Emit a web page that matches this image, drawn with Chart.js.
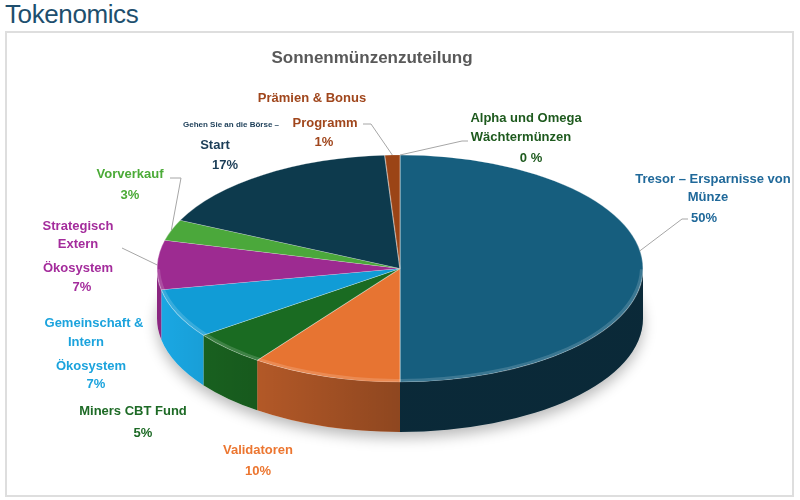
<!DOCTYPE html>
<html lang="de">
<head>
<meta charset="utf-8">
<title>Tokenomics</title>
<script src="https://cdn.jsdelivr.net/npm/chart.js@4.4.1/dist/chart.umd.min.js"></script>
<style>
    html, body { margin: 0; padding: 0; background: #fff; }
    body { width: 800px; height: 500px; position: relative; overflow: hidden; font-family: "Liberation Sans", Arial, sans-serif; }
    h1 { position: absolute; left: 5px; top: -1px; margin: 0; font-weight: normal; font-size: 26px; letter-spacing: -0.4px; color: #1e4f6e; }
    .frame { position: absolute; left: 5px; top: 31px; width: 785px; height: 462px; border: 2px solid #dedede; }
    canvas { position: absolute; left: 0; top: 0; }
</style>
</head>
<body>
<h1>Tokenomics</h1>
<div class="frame"></div>
<canvas id="tokenomics" width="800" height="500"></canvas>
<script>
(function() {
    "use strict";

    // Data
    var categories = [
        'Tresor – Ersparnisse von Münze',
        'Validatoren',
        'Miners CBT Fund',
        'Gemeinschaft & Intern Ökosystem',
        'Strategisch Extern Ökosystem',
        'Vorverkauf',
        'Gehen Sie an die Börse – Start',
        'Prämien & Bonus Programm',
        'Alpha und Omega Wächtermünzen'
    ];
    var shares = [50, 10, 5, 7, 7, 3, 17, 1, 0];

    var topColors  = ['#165e7e', '#e77432', '#1a6b22', '#119cd6', '#9d2b91', '#4ba83b', '#0d3a4d', '#9b4416', '#1e5c1e'];
    var sideColors = ['#0f3b50', '#cc652d', '#1a6621', '#1aa8e4', '#8a2680', '#3f9231', '#0a2c3b', '#7d3712', '#174a17'];

    var chartTitle = 'Sonnenmünzenzuteilung';
    var depth = 50;

    // Label placement (text lines: [text, x, y, fontSize])
    var labelLayout = [
        { lines: [['Tresor – Ersparnisse von', 713, 179], ['Münze', 708, 197]], pct: [704, 218], color: '#20699a', leader: [[688, 219], [682, 219]], at: 0.45 },
        { lines: [['Validatoren', 258, 450]], pct: [258, 471], color: '#ec7630' },
        { lines: [['Miners CBT Fund', 133, 411]], pct: [143, 433], color: '#1d6a25' },
        { lines: [['Gemeinschaft &', 94, 323], ['Intern', 86, 342], ['Ökosystem', 91, 366]], pct: [96, 384], color: '#1ba3dd' },
        { lines: [['Strategisch', 78, 226], ['Extern', 78, 244], ['Ökosystem', 78, 268]], pct: [82, 287], color: '#a42c9c', leader: [[122, 248]] },
        { lines: [['Vorverkauf', 130, 174]], pct: [130, 195], color: '#4bab37', leader: [[170, 178], [181, 178]] },
        { lines: [['Gehen Sie an die Börse –', 231, 125, 8], ['Start', 215, 145]], pct: [225, 165], color: '#1b3d57' },
        { lines: [['Prämien & Bonus', 312, 98], ['Programm', 325, 123]], pct: [324, 142], color: '#a0461c', leader: [[363, 124], [371, 124]] },
        { lines: [['Alpha und Omega', 526, 118], ['Wächtermünzen', 521, 137]], pct: [531, 158], sep: ' ', color: '#1e5a1e', leader: [[468, 141], [462, 141]] }
    ];

    function ellipseOf(chart) {
        var a = chart.chartArea;
        return { cx: (a.left + a.right) / 2, cy: (a.top + a.bottom) / 2, rx: a.width / 2, ry: a.height / 2 };
    }

    // Tilted pie: side walls + squashed top face
    var pie3d = {
        id: 'pie3d',
        beforeDatasetsDraw: function(chart) {
            var ctx = chart.ctx;
            var e = ellipseOf(chart);
            var arcs = chart.getDatasetMeta(0).data;

            // soft shadow under the pie
            ctx.save();
            ctx.shadowColor = 'rgba(0,0,0,0.28)';
            ctx.shadowBlur = 14;
            ctx.shadowOffsetY = 6;
            ctx.fillStyle = '#fff';
            ctx.beginPath();
            ctx.ellipse(e.cx, e.cy + depth, e.rx, e.ry, 0, 0, Math.PI * 2);
            ctx.fill();
            ctx.restore();

            // front side walls
            ctx.save();
            arcs.forEach(function(arc, i) {
                var p = arc.getProps(['startAngle', 'endAngle']);
                var s = Math.max(p.startAngle, 0), t = Math.min(p.endAngle, Math.PI);
                if (t <= s) return;
                ctx.beginPath();
                ctx.ellipse(e.cx, e.cy, e.rx, e.ry, 0, s, t);
                ctx.ellipse(e.cx, e.cy + depth, e.rx, e.ry, 0, t, s, true);
                ctx.closePath();
                ctx.fillStyle = sideColors[i];
                ctx.fill();
            });
            // shading across the wall
            var g = ctx.createLinearGradient(e.cx - e.rx, 0, e.cx + e.rx, 0);
            g.addColorStop(0, 'rgba(0,0,0,0)');
            g.addColorStop(0.5, 'rgba(0,0,0,0.3)');
            g.addColorStop(1, 'rgba(0,0,0,0.3)');
            ctx.beginPath();
            ctx.ellipse(e.cx, e.cy, e.rx, e.ry, 0, 0, Math.PI);
            ctx.ellipse(e.cx, e.cy + depth, e.rx, e.ry, 0, Math.PI, 0, true);
            ctx.closePath();
            ctx.fillStyle = g;
            ctx.fill();
            ctx.restore();
        },
        beforeDatasetDraw: function(chart) {
            var ctx = chart.ctx;
            var e = ellipseOf(chart);
            var r = chart.getDatasetMeta(0).data[0].outerRadius;
            ctx.save();
            ctx.translate(e.cx, e.cy);
            ctx.scale(e.rx / r, e.ry / r);
            ctx.translate(-e.cx, -e.cy);
        },
        afterDatasetDraw: function(chart) {
            chart.ctx.restore();
        },
        afterDatasetsDraw: function(chart) {
            // light bevel along the front rim of the top face
            var ctx = chart.ctx;
            var e = ellipseOf(chart);
            ctx.save();
            ctx.strokeStyle = 'rgba(255,255,255,0.16)';
            ctx.lineWidth = 3;
            ctx.beginPath();
            ctx.ellipse(e.cx, e.cy - 1.5, e.rx - 1.5, e.ry, 0, 0.02, Math.PI - 0.02);
            ctx.stroke();
            ctx.restore();
        }
    };

    // Title, labels and leader lines
    var pieLabels = {
        id: 'pieLabels',
        afterDraw: function(chart) {
            var ctx = chart.ctx;
            var e = ellipseOf(chart);
            var arcs = chart.getDatasetMeta(0).data;
            ctx.save();
            ctx.textAlign = 'center';
            ctx.textBaseline = 'middle';

            ctx.font = 'bold 17px "Liberation Sans", Arial, sans-serif';
            ctx.fillStyle = '#595959';
            ctx.fillText(chartTitle, 372, 58);

            labelLayout.forEach(function(lab, i) {
                if (lab.leader) {
                    var p = arcs[i].getProps(['startAngle', 'endAngle']);
                    var at = lab.at === undefined ? 0.5 : lab.at;
                    var ang = p.startAngle + (p.endAngle - p.startAngle) * at;
                    ctx.strokeStyle = '#a6a6a6';
                    ctx.lineWidth = 1;
                    ctx.beginPath();
                    lab.leader.forEach(function(pt, k) {
                        if (k === 0) ctx.moveTo(pt[0], pt[1]); else ctx.lineTo(pt[0], pt[1]);
                    });
                    ctx.lineTo(e.cx + e.rx * Math.cos(ang), e.cy + e.ry * Math.sin(ang));
                    ctx.stroke();
                }
                ctx.fillStyle = lab.color;
                lab.lines.forEach(function(ln) {
                    ctx.font = 'bold ' + (ln[3] || 13) + 'px "Liberation Sans", Arial, sans-serif';
                    ctx.fillText(ln[0], ln[1], ln[2]);
                });
                ctx.font = 'bold 13px "Liberation Sans", Arial, sans-serif';
                ctx.fillText(shares[i] + (lab.sep || '') + '%', lab.pct[0], lab.pct[1]);
            });
            ctx.restore();
        }
    };

    var ctx = document.getElementById('tokenomics');
    new Chart(ctx, {
        type: 'pie',
        data: {
            labels: categories,
            datasets: [{
                data: shares,
                backgroundColor: topColors,
                borderColor: 'rgba(255,255,255,0.35)',
                borderWidth: 0.6,
                clip: false
            }]
        },
        options: {
            responsive: false,
            animation: false,
            events: [],
            layout: { padding: { left: 157, right: 157, top: 155, bottom: 118 } },
            plugins: {
                legend: { display: false },
                title: { display: false },
                tooltip: { enabled: false }
            }
        },
        plugins: [pie3d, pieLabels]
    });
})();
</script>
</body>
</html>
